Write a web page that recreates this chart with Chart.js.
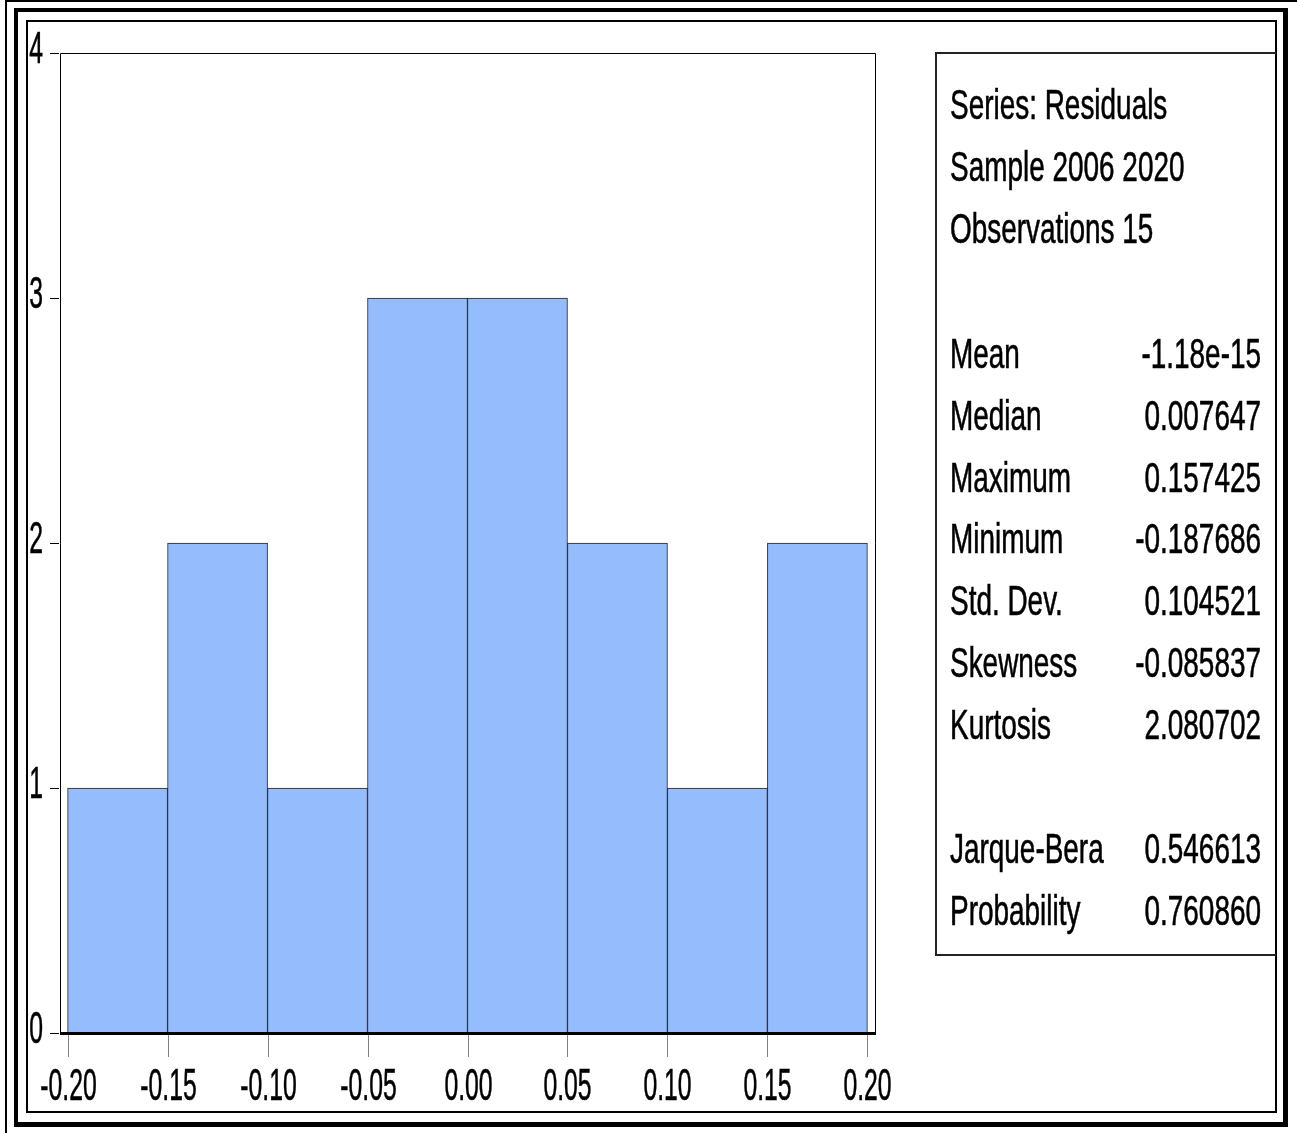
<!DOCTYPE html>
<html>
<head>
<meta charset="utf-8">
<script src="https://cdn.jsdelivr.net/npm/chart.js@4.4.1/dist/chart.umd.min.js"></script>
<style>
  html, body { margin: 0; padding: 0; background: #fff; }
  canvas { display: block; }
</style>
</head>
<body>
<canvas id="hist" width="1297" height="1133"></canvas>
<script>
// histogram of residuals
const binCenters = [-0.175, -0.125, -0.075, -0.025, 0.025, 0.075, 0.125, 0.175];
const binCounts = [1, 2, 1, 3, 3, 2, 1, 2];
const xTicks = [-0.20, -0.15, -0.10, -0.05, 0.00, 0.05, 0.10, 0.15, 0.20];
const yTicks = [0, 1, 2, 3, 4];

const headerLines = ["Series: Residuals", "Sample 2006 2020", "Observations 15"];
const statNames = ["Mean", "Median", "Maximum", "Minimum", "Std. Dev.", "Skewness", "Kurtosis"];
const statValues = ["-1.18e-15", "0.007647", "0.157425", "-0.187686", "0.104521", "-0.085837", "2.080702"];
const testNames = ["Jarque-Bera", "Probability"];
const testValues = ["0.546613", "0.760860"];

const FONT = '"Liberation Sans", Arial, sans-serif';

// draw narrow text (eviews style condensed font), slightly heavier stroke
function narrowText(ctx, text, x, y, size, sx, align) {
  ctx.save();
  ctx.font = size + "px " + FONT;
  ctx.fillStyle = "#000";
  ctx.strokeStyle = "#000";
  ctx.lineWidth = 0.6;
  ctx.textBaseline = "alphabetic";
  ctx.textAlign = align || "left";
  ctx.translate(x, y);
  ctx.scale(sx, 1);
  ctx.fillText(text, 0, 0);
  ctx.strokeText(text, 0, 0);
  ctx.restore();
}

const framePlugin = {
  id: "eviewsFrame",
  afterDraw(chart) {
    const ctx = chart.ctx;
    const area = chart.chartArea;
    const xs = chart.scales.x;
    const ys = chart.scales.y;

    ctx.save();
    ctx.fillStyle = "#000";
    // outer frames
    ctx.fillRect(5, 0, 2, 1133);
    ctx.fillRect(5, 0, 1292, 2);
    ctx.fillRect(14, 8, 1274, 4);
    ctx.fillRect(14, 8, 4, 1119);
    ctx.fillRect(1283, 8, 5, 1119);
    ctx.fillRect(14, 1122, 1274, 5);
    ctx.fillRect(26, 20, 1251, 2);
    ctx.fillRect(26, 20, 2, 1093);
    ctx.fillRect(1275, 20, 2, 1093);
    ctx.fillRect(26, 1111, 1251, 2);

    // plot frame
    ctx.strokeStyle = "#000";
    ctx.lineWidth = 1;
    ctx.beginPath();
    ctx.moveTo(area.left + 0.5, area.bottom);
    ctx.lineTo(area.left + 0.5, area.top + 0.5);
    ctx.lineTo(area.right - 0.5, area.top + 0.5);
    ctx.lineTo(area.right - 0.5, area.bottom);
    ctx.stroke();
    ctx.fillRect(area.left, area.bottom - 1, area.right - area.left, 3);

    // y ticks + labels
    yTicks.forEach(v => {
      const py = Math.round(ys.getPixelForValue(v));
      ctx.fillRect(area.left - 10, py, 9, 1);
      narrowText(ctx, String(v), 43, py + 10, 45, 0.55, "right");
    });

    // x ticks + labels
    ctx.fillStyle = "#808080";
    xTicks.forEach(v => {
      const px = Math.round(xs.getPixelForValue(v));
      ctx.fillRect(px, area.bottom + 2, 1, 22);
      narrowText(ctx, v.toFixed(2), px + 0.5, 1100, 45, 0.55, "center");
    });

    // stats box
    ctx.strokeStyle = "#222";
    ctx.lineWidth = 2;
    ctx.beginPath();
    ctx.moveTo(1276, 53);
    ctx.lineTo(936, 53);
    ctx.lineTo(936, 955);
    ctx.lineTo(1276, 955);
    ctx.stroke();

    const left = 950, right = 1261, fs = 42, sx = 0.665;
    headerLines.forEach((t, i) => narrowText(ctx, t, left, 119 + i * 62, fs, sx));
    statNames.forEach((t, i) => {
      narrowText(ctx, t, left, 368 + i * 61.8, fs, sx);
      narrowText(ctx, statValues[i], right, 368 + i * 61.8, fs, sx, "right");
    });
    testNames.forEach((t, i) => {
      narrowText(ctx, t, left, 863 + i * 62, fs, sx);
      narrowText(ctx, testValues[i], right, 863 + i * 62, fs, sx, "right");
    });
    ctx.restore();
  }
};

new Chart(document.getElementById("hist"), {
  type: "bar",
  data: {
    datasets: [{
      label: "Residuals",
      data: binCenters.map((c, i) => ({ x: c, y: binCounts[i] })),
      backgroundColor: "#95BDFD",
      borderColor: "#222",
      borderWidth: 1,
      borderSkipped: "bottom",
      barPercentage: 1,
      categoryPercentage: 1,
    }],
  },
  options: {
    responsive: false,
    animation: false,
    layout: { padding: { left: 60, top: 53, right: 421, bottom: 100 } },
    plugins: { legend: { display: false }, tooltip: { enabled: false } },
    scales: {
      x: {
        type: "linear",
        offset: false,
        min: -0.2038,
        max: 0.2043,
        grid: { display: false },
        border: { display: false },
        ticks: { display: false },
        afterBuildTicks: s => { s.ticks = xTicks.map(v => ({ value: v })); },
        afterFit: s => { s.height = 0; },
      },
      y: {
        min: 0,
        max: 4,
        grid: { display: false },
        border: { display: false },
        ticks: { display: false, stepSize: 1 },
        afterFit: s => { s.width = 0; },
      },
    },
  },
  plugins: [framePlugin],
});
</script>
</body>
</html>
